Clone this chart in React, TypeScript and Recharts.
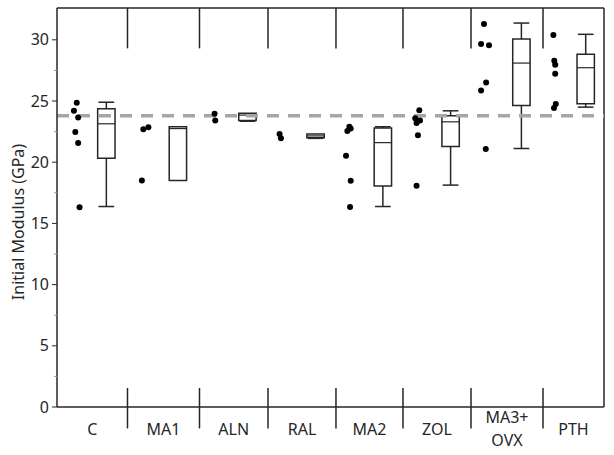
import React from 'react';
import { ComposedChart, XAxis, YAxis, Scatter, ReferenceLine, ReferenceArea } from 'recharts';

// ---- data ----
const groups = ['C', 'MA1', 'ALN', 'RAL', 'MA2', 'ZOL', 'MA3+\nOVX', 'PTH'];
const groupEdges = [0, 1.031, 2.084, 3.086, 4.08, 5.06, 6.055, 7.108, 8];

const cValues = [24.85, 24.2, 23.65, 22.46, 21.56, 16.33];
const ma1Values = [22.85, 22.7, 18.5];
const alnValues = [23.95, 23.4];
const ralValues = [22.3, 21.95];
const ma2Values = [22.9, 22.75, 22.55, 20.52, 18.48, 16.35];
const zolValues = [24.25, 23.6, 23.4, 23.2, 22.2, 18.07];
const ma3Values = [31.3, 29.66, 29.55, 26.52, 25.86, 21.07];
const pthValues = [30.39, 28.29, 27.96, 27.23, 24.75, 24.42];
const groupValues = [cValues, ma1Values, alnValues, ralValues, ma2Values, zolValues, ma3Values, pthValues];

// horizontal jitter of each dot (fraction of group width)
const cJitter = [0.28, 0.24, 0.3, 0.26, 0.3, 0.32];
const ma1Jitter = [0.29, 0.22, 0.2];
const alnJitter = [0.22, 0.23];
const ralJitter = [0.17, 0.19];
const ma2Jitter = [0.2, 0.22, 0.17, 0.15, 0.22, 0.21];
const zolJitter = [0.24, 0.18, 0.25, 0.2, 0.22, 0.2];
const ma3Jitter = [0.18, 0.14, 0.25, 0.21, 0.14, 0.205];
const pthJitter = [0.17, 0.185, 0.2, 0.2, 0.21, 0.18];
const groupJitter = [cJitter, ma1Jitter, alnJitter, ralJitter, ma2Jitter, zolJitter, ma3Jitter, pthJitter];

// box statistics
const boxMin = [16.38, 18.5, 23.35, 21.95, 16.38, 18.13, 21.12, 24.5];
const boxQ1 = [20.33, 18.5, 23.4, 22.0, 18.05, 21.28, 24.64, 24.77];
const boxMedian = [23.14, 22.75, 23.85, 22.15, 21.6, 23.3, 28.1, 27.72];
const boxQ3 = [24.37, 22.9, 24.0, 22.3, 22.8, 23.8, 30.06, 28.83];
const boxMax = [24.9, 22.9, 24.0, 22.3, 22.9, 24.2, 31.37, 30.45];

const referenceValue = 23.8;
const yTicks = [0, 2.5, 5, 7.5, 10, 12.5, 15, 17.5, 20, 22.5, 25, 27.5, 30];
const yMax = 32.6;

// ---- derived ----
const points = groupValues.flatMap((vals, i) =>
  vals.map((v, j) => ({
    x: groupEdges[i] + groupJitter[i][j] * (groupEdges[i + 1] - groupEdges[i]),
    y: v,
  }))
);
const centers = groups.map((_, i) => (groupEdges[i] + groupEdges[i + 1]) / 2);
const boxCenters = groups.map((_, i) => groupEdges[i] + 0.7 * (groupEdges[i + 1] - groupEdges[i]));
const innerEdges = groupEdges.slice(1, -1);

const LINE = '#262626';
const FONT = '"Noto Sans", sans-serif';
const BOX_HALF = 0.127;
const CAP_HALF = 0.115;

const YTick = (props: any) => {
  const { x, y, payload } = props;
  const major = payload.value % 5 === 0;
  return (
    <g>
      <line x1={x - (major ? 5 : 3)} x2={x} y1={y} y2={y} stroke={major ? LINE : '#999'} strokeWidth={1} />
      {major && (
        <text x={x - 8} y={y} dy={5.5} textAnchor="end" fill="#262626" fontSize={16} fontFamily={FONT}>
          {payload.value}
        </text>
      )}
    </g>
  );
};

const XTick = (props: any) => {
  const { x, y, payload } = props;
  const idx = centers.findIndex((c) => Math.abs(c - payload.value) < 1e-6);
  const label = idx >= 0 ? groups[idx] : '';
  const lines = label.split('\n');
  const startY = lines.length > 1 ? y + 16 : y + 28;
  return (
    <text x={x} y={startY} textAnchor="middle" fill="#262626" fontSize={16} fontFamily={FONT}>
      {lines.map((l, k) => (
        <tspan key={k} x={x} dy={k === 0 ? 0 : 23}>
          {l}
        </tspan>
      ))}
    </text>
  );
};

const YLabel = (props: any) => {
  const cx = 17.5;
  const cy = 222;
  return (
    <text
      x={cx}
      y={cy}
      transform={`rotate(-90 ${cx} ${cy})`}
      textAnchor="middle"
      dominantBaseline="central"
      fill="#262626"
      fontSize={16}
      fontFamily={FONT}
    >
      Initial Modulus (GPa)
    </text>
  );
};

export default function App() {
  return (
    <div style={{ position: 'absolute', left: 0, top: 0, background: '#fff' }}>
      <ComposedChart width={614} height={455} margin={{ top: 8, right: 10, bottom: 0, left: 0 }}>
        <XAxis
          type="number"
          dataKey="x"
          domain={[0, 8]}
          ticks={centers}
          tick={<XTick />}
          tickLine={false}
          tickSize={0}
          tickMargin={0}
          height={48}
          axisLine={{ stroke: LINE, strokeWidth: 1.5 }}
          allowDataOverflow
          interval={0}
        />
        <YAxis
          type="number"
          dataKey="y"
          domain={[0, yMax]}
          ticks={yTicks}
          tick={<YTick />}
          tickLine={false}
          tickSize={0}
          tickMargin={0}
          width={57}
          axisLine={{ stroke: LINE, strokeWidth: 1.5 }}
          allowDataOverflow
          interval={0}
          label={<YLabel />}
        />
        {/* frame */}
        <ReferenceLine y={yMax} stroke={LINE} strokeWidth={1.5} />
        <ReferenceLine x={8} stroke={LINE} strokeWidth={1.5} />
        {/* group dividers */}
        {innerEdges.map((e, i) => (
          <ReferenceLine
            key={`dt${i}`}
            segment={[{ x: e, y: 29.3 }, { x: e, y: yMax }]}
            stroke={LINE}
            strokeWidth={1.5}
            ifOverflow="visible"
          />
        ))}
        {innerEdges.map((e, i) => (
          <ReferenceLine
            key={`db${i}`}
            segment={[{ x: e, y: -1.75 }, { x: e, y: 1.55 }]}
            stroke={LINE}
            strokeWidth={1.5}
            ifOverflow="visible"
          />
        ))}
        {/* boxes */}
        {boxCenters.map((c, i) => (
          <ReferenceArea
            key={`box${i}`}
            x1={c - BOX_HALF}
            x2={c + BOX_HALF}
            y1={boxQ1[i]}
            y2={boxQ3[i]}
            fill="#fff"
            fillOpacity={0}
            stroke={LINE}
            strokeWidth={1.5}
            ifOverflow="visible"
          />
        ))}
        {boxCenters.map((c, i) => (
          <ReferenceLine
            key={`med${i}`}
            segment={[{ x: c - BOX_HALF, y: boxMedian[i] }, { x: c + BOX_HALF, y: boxMedian[i] }]}
            stroke={LINE}
            strokeWidth={1.2}
            ifOverflow="visible"
          />
        ))}
        {boxCenters.map((c, i) =>
          boxMin[i] < boxQ1[i] ? (
            <ReferenceLine
              key={`wl${i}`}
              segment={[{ x: c, y: boxMin[i] }, { x: c, y: boxQ1[i] }]}
              stroke={LINE}
              strokeWidth={1.5}
              ifOverflow="visible"
            />
          ) : null
        )}
        {boxCenters.map((c, i) =>
          boxMax[i] > boxQ3[i] ? (
            <ReferenceLine
              key={`wh${i}`}
              segment={[{ x: c, y: boxQ3[i] }, { x: c, y: boxMax[i] }]}
              stroke={LINE}
              strokeWidth={1.5}
              ifOverflow="visible"
            />
          ) : null
        )}
        {boxCenters.map((c, i) =>
          boxMin[i] < boxQ1[i] ? (
            <ReferenceLine
              key={`cl${i}`}
              segment={[{ x: c - CAP_HALF, y: boxMin[i] }, { x: c + CAP_HALF, y: boxMin[i] }]}
              stroke={LINE}
              strokeWidth={1.5}
              ifOverflow="visible"
            />
          ) : null
        )}
        {boxCenters.map((c, i) =>
          boxMax[i] > boxQ3[i] ? (
            <ReferenceLine
              key={`ch${i}`}
              segment={[{ x: c - CAP_HALF, y: boxMax[i] }, { x: c + CAP_HALF, y: boxMax[i] }]}
              stroke={LINE}
              strokeWidth={1.5}
              ifOverflow="visible"
            />
          ) : null
        )}
        {/* reference dashed line */}
        <ReferenceLine y={referenceValue} stroke="#a6a6a6" strokeWidth={3.5} strokeDasharray="12 9" />
        <Scatter
          data={points}
          dataKey="y"
          isAnimationActive={false}
          shape={(p: any) => <circle cx={p.cx} cy={p.cy} r={3} fill="#000" />}
        />
      </ComposedChart>
    </div>
  );
}
